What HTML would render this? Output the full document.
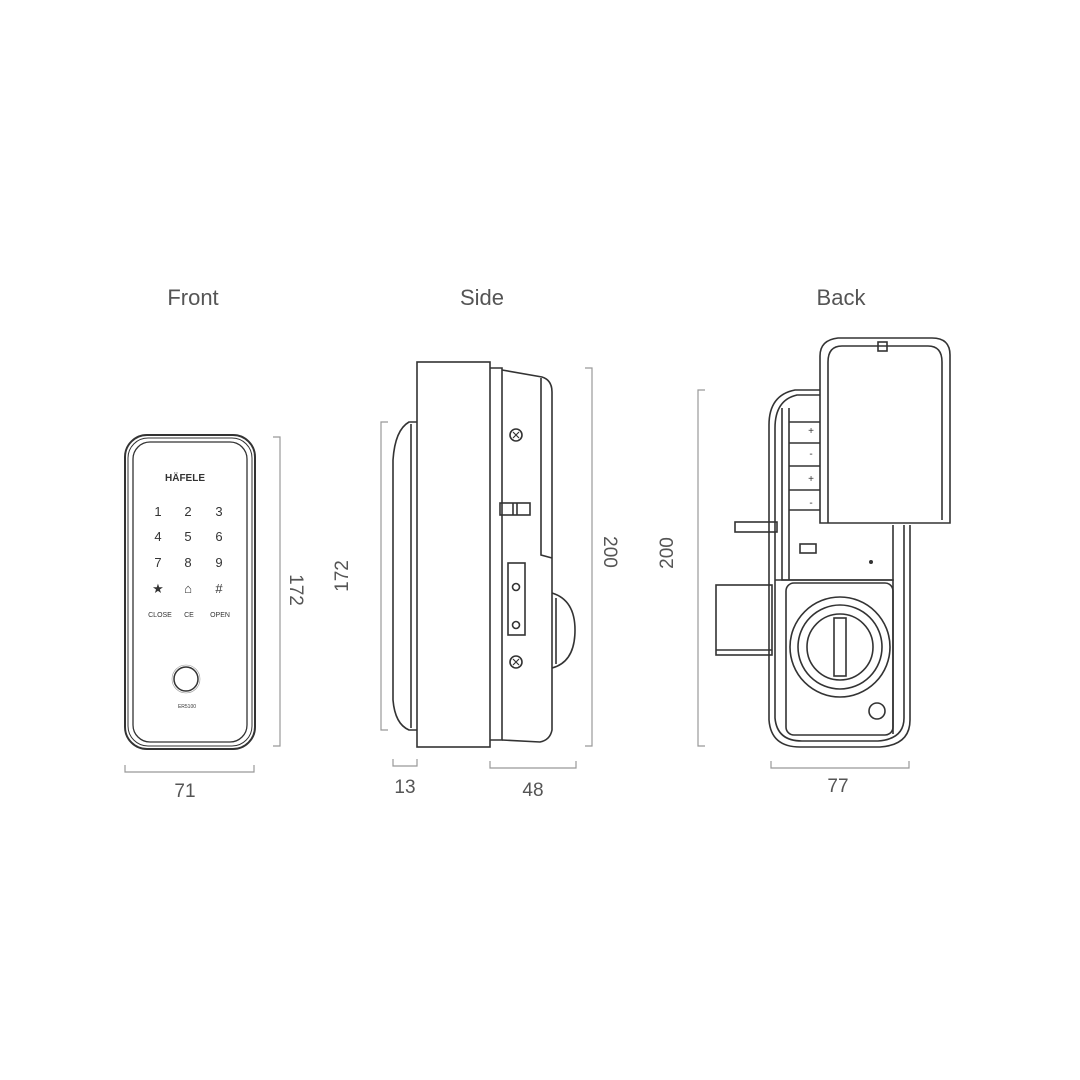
<!DOCTYPE html>
<html><head><style>body{margin:0;background:#fff}svg{display:block}</style></head><body>
<svg width="1080" height="1080" viewBox="0 0 1080 1080" xmlns="http://www.w3.org/2000/svg" font-family="Liberation Sans, sans-serif">
<rect width="1080" height="1080" fill="#fff"/>
<g fill="#555" font-size="22" text-anchor="middle">
<text x="193" y="305">Front</text><text x="482" y="305">Side</text><text x="841" y="305">Back</text>
</g>
<g fill="none" stroke="#999" stroke-width="1.2">
<path d="M273 437H280V746H273"/><path d="M125 765V772H254V765"/>
<path d="M388 422H381V730H388"/><path d="M585 368H592V746H585"/>
<path d="M393 759V766H417V759"/><path d="M490 761V768H576V761"/>
<path d="M705 390H698V746H705"/><path d="M771 761V768H909V761"/>
</g>
<g fill="#555" font-size="19" text-anchor="middle">
<text x="185" y="797">71</text>
<text transform="translate(290,590) rotate(90)">172</text>
<text transform="translate(348,576) rotate(-90)">172</text>
<text transform="translate(604,552) rotate(90)">200</text>
<text x="405" y="793">13</text><text x="533" y="796">48</text>
<text transform="translate(673,553) rotate(-90)">200</text>
<text x="838" y="792">77</text>
</g>
<!-- FRONT -->
<g fill="none" stroke="#333">
<rect x="125" y="435" width="130" height="314" rx="22" stroke-width="2"/>
<rect x="128" y="438" width="124" height="308" rx="20" stroke-width="1"/>
<rect x="133" y="442" width="114" height="300" rx="17" stroke-width="1.3"/>
<circle cx="186" cy="679" r="12" stroke-width="1.5"/>
<circle cx="186" cy="679" r="14" stroke-width="0.6" stroke="#999"/>
</g>
<g fill="#333" text-anchor="middle">
<text x="185" y="481" font-size="10" font-weight="bold">HÄFELE</text>
<g font-size="13"><text x="158" y="516">1</text><text x="188" y="516">2</text><text x="219" y="516">3</text>
<text x="158" y="541">4</text><text x="188" y="541">5</text><text x="219" y="541">6</text>
<text x="158" y="567">7</text><text x="188" y="567">8</text><text x="219" y="567">9</text>
<text x="158" y="593">★</text><text x="188" y="593">⌂</text><text x="219" y="593">#</text></g>
<g font-size="7"><text x="160" y="617">CLOSE</text><text x="189" y="617">CE</text><text x="220" y="617">OPEN</text>
<text x="187" y="708" font-size="5">ER5100</text></g>
</g>
<!-- SIDE -->
<g fill="none" stroke="#333" stroke-width="1.6">
<rect x="417" y="362" width="73" height="385"/>
<path d="M417 422H409Q395 430 393 460V700Q395 724 409 730H417"/>
<path d="M411 424V728"/>
<path d="M490 368H502V740H490"/>
<path d="M502 370L542 377Q552 380 552 392V730Q550 740 540 742L502 740"/>
<path d="M541 378V555L552 558"/>
<path d="M552 593Q575 600 575 630Q575 662 552 668"/>
<path d="M556 598V664"/>
<rect x="508" y="563" width="17" height="72"/>
<circle cx="516" cy="587" r="3.5"/><circle cx="516" cy="625" r="3.5"/>
<rect x="500" y="503" width="30" height="12"/><path d="M513 503V515M517 503V515"/>
<circle cx="516" cy="435" r="6"/><circle cx="516" cy="662" r="6"/>
<path d="M513 432l6 6M519 432l-6 6M513 659l6 6M519 659l-6 6" stroke-width="1.2"/>
</g>
<!-- BACK -->
<g fill="none" stroke="#333" stroke-width="1.6">
<path d="M820 390H795Q769 395 769 425V720Q771 747 800 747H880Q910 745 910 720V525"/>
<path d="M820 395H797Q775 400 775 428V718Q777 741 802 741H878Q904 739 904 718V525"/>
<path d="M782 408V580H893V525"/>
<path d="M789 408V580"/>
<path d="M789 422H820M789 443H820M789 466H820M789 490H820M789 510H820"/>
<rect x="800" y="544" width="16" height="9"/>
<path d="M775 580H893V734"/>
<rect x="786" y="583" width="107" height="152" rx="8"/>
<path d="M820 523H950V355Q950 338 932 338H838Q820 340 820 356Z" fill="#fff"/>
<path d="M828 523V362Q828 346 842 346H928Q942 346 942 362V520"/>
<rect x="878" y="342" width="9" height="9"/>
<circle cx="840" cy="647" r="50"/><circle cx="840" cy="647" r="42"/><circle cx="840" cy="647" r="33"/>
<rect x="834" y="618" width="12" height="58"/>
<circle cx="877" cy="711" r="8"/>
<rect x="716" y="585" width="56" height="70"/><path d="M716 650H772"/>
<rect x="735" y="522" width="42" height="10"/>
</g>
<g fill="#333" font-size="10" text-anchor="middle"><text x="811" y="434">+</text><text x="811" y="457">-</text><text x="811" y="482">+</text><text x="811" y="506">-</text></g>
<circle cx="871" cy="562" r="2" fill="#333"/>
</svg>
</body></html>
